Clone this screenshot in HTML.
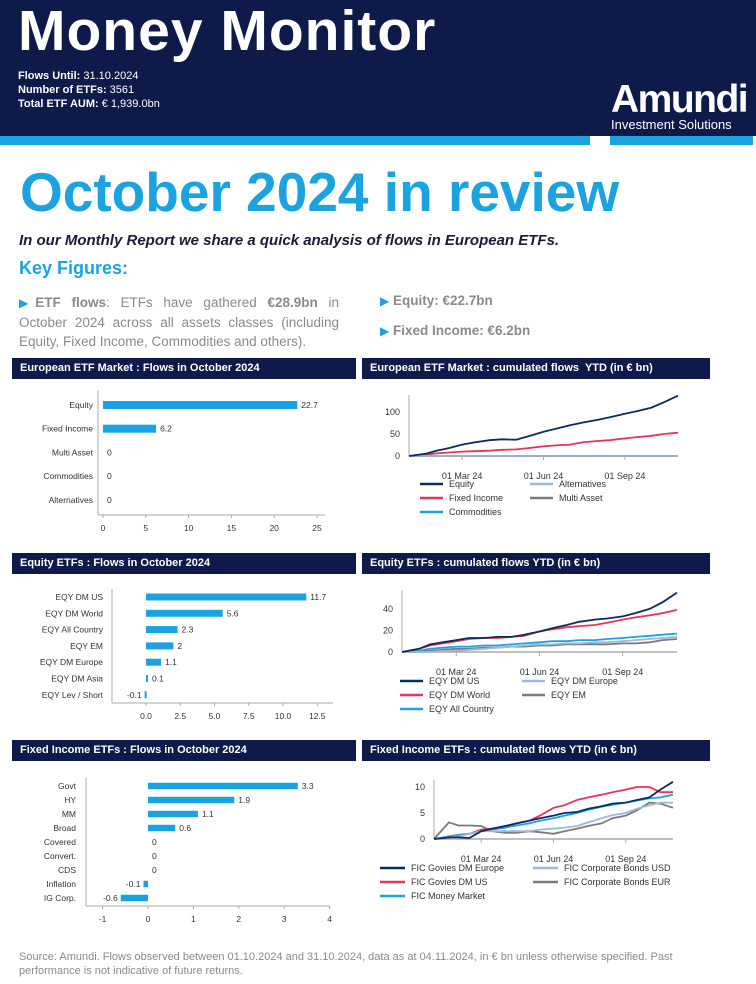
<!DOCTYPE html>
<html><head><meta charset="utf-8">
<style>
body{margin:0;width:756px;height:984px;background:#fff;position:relative;overflow:hidden;font-family:"Liberation Sans",sans-serif}
.abs{position:absolute;white-space:nowrap}
.band{position:absolute;background:#0e1a4a;color:#fff;font-weight:bold;font-size:11px;line-height:21px;height:21px;padding-left:8px;box-sizing:border-box}
.kf{color:#8a8a8a;font-size:13.5px}
.kf b{color:#8a8a8a}
.tri{color:#1aa3e0;font-size:12px}
svg text{font-family:"Liberation Sans",sans-serif}
</style></head><body>
<div class="abs" style="left:0;top:0;width:756px;height:136px;background:#0e1a4a"></div>
<div class="abs" style="left:0;top:136px;width:590px;height:9px;background:#1aa3e0"></div>
<div class="abs" style="left:610px;top:136px;width:143px;height:9px;background:#1aa3e0"></div>
<div class="abs" style="left:18px;top:-2px;font-size:57px;font-weight:bold;color:#fff;letter-spacing:1px">Money Monitor</div>
<div class="abs" style="left:18px;top:69px;font-size:11px;line-height:14px;color:#fff"><b>Flows Until:</b> 31.10.2024<br><b>Number of ETFs:</b> 3561<br><b>Total ETF AUM:</b> € 1,939.0bn</div>
<div class="abs" style="left:611px;top:78px;font-size:39px;font-weight:bold;color:#fff;letter-spacing:-1.5px">Amundi</div>
<div class="abs" style="left:611px;top:117px;font-size:13px;color:#fff">Investment Solutions</div>

<div class="abs" style="left:20px;top:160px;font-size:55px;font-weight:bold;color:#1aa3e0">October 2024 in review</div>
<div class="abs" style="left:19px;top:232px;font-size:15px;font-weight:bold;font-style:italic;color:#1a1a3a">In our Monthly Report we share a quick analysis of flows in European ETFs.</div>
<div class="abs" style="left:19px;top:258px;font-size:18px;font-weight:bold;color:#1aa3e0">Key Figures:</div>
<div class="abs kf" style="left:19px;top:293px;width:320px;white-space:normal;line-height:19px;text-align:justify"><span class="tri">▶</span><b>ETF flows</b>: ETFs have gathered <b>€28.9bn</b> in October 2024 across all assets classes (including Equity, Fixed Income, Commodities and others).</div>
<div class="abs kf" style="left:380px;top:293px"><span class="tri">▶</span> <b>Equity: €22.7bn</b></div>
<div class="abs kf" style="left:380px;top:323px"><span class="tri">▶</span> <b>Fixed Income: €6.2bn</b></div>

<div class="band" style="left:12px;top:358px;width:344px">European ETF Market : Flows in October 2024</div>
<div class="band" style="left:362px;top:358px;width:348px">European ETF Market : cumulated flows&nbsp; YTD (in € bn)</div>
<div class="band" style="left:12px;top:553px;width:344px">Equity ETFs : Flows in October 2024</div>
<div class="band" style="left:362px;top:553px;width:348px">Equity ETFs : cumulated flows YTD (in € bn)</div>
<div class="band" style="left:12px;top:740px;width:344px">Fixed Income ETFs : Flows in October 2024</div>
<div class="band" style="left:362px;top:740px;width:348px">Fixed Income ETFs : cumulated flows YTD (in € bn)</div>

<svg id="chart" class="abs" style="left:0;top:0" width="756" height="984"></svg>

<div class="abs" style="left:19px;top:950px;font-size:11px;line-height:14px;color:#8a8a8a;white-space:normal;width:700px">Source: Amundi. Flows observed between 01.10.2024 and 31.10.2024, data as at 04.11.2024, in € bn unless otherwise specified. Past performance is not indicative of future returns.</div>

<script>
// ---- Chart data ----
const mktCategories = ["Equity","Fixed Income","Multi Asset","Commodities","Alternatives"];
const mktValues = [22.7,6.2,0,0,0];
const mktTicks = [0,5,10,15,20,25];

const eqCategories = ["EQY DM US","EQY DM World","EQY All Country","EQY EM","EQY DM Europe","EQY DM Asia","EQY Lev / Short"];
const eqValues = [11.7,5.6,2.3,2,1.1,0.1,-0.1];
const eqTicks = ["0.0","2.5","5.0","7.5","10.0","12.5"];

const fiCategories = ["Govt","HY","MM","Broad","Covered","Convert.","CDS","Inflation","IG Corp."];
const fiValues = [3.3,1.9,1.1,0.6,0,0,0,-0.1,-0.6];
const fiTicks = [-1,0,1,2,3,4];

const dates = ["2024-01-01","2024-01-20","2024-02-01","2024-02-15","2024-03-01","2024-03-15","2024-04-01","2024-04-15","2024-05-01","2024-05-15","2024-06-01","2024-06-15","2024-07-01","2024-07-15","2024-08-01","2024-08-15","2024-09-01","2024-09-15","2024-10-01","2024-10-15","2024-10-31"];
const dateTickLabels = ["01 Mar 24","01 Jun 24","01 Sep 24"];
const dateTicks = ["2024-03-01","2024-06-01","2024-09-01"];

const mktEquity = [0,5,12,18,26,31,36,38,37,45,55,62,70,76,82,88,96,102,110,122,137];
const mktFixed = [0,3,6,8,10,11,12,14,15,18,22,24,26,31,34,36,40,43,46,50,53];
const mktAlt = [0,0,0,0,0,0,0,0,0,0,0,0,0,0,0,0,0,0,0,0,0];
const mktMulti = [0,0,0,0,0,0,0,0,0,0,0,0,0,0,0,0,0,0,0,0,0];
const mktComm = [0,0,0,0,0,0,0,0,0,0,0,0,0,0,0,0,0,0,0,0,0];
const mktTickVals = [0,50,100];

const eqUS = [0,3,7,9,11,13,13,14,14,16,19,22,25,28,30,31,33,36,40,46,55];
const eqWorld = [0,3,6,8,10,12,13,13,14,15,19,21,23,24,25,27,30,32,34,36,39];
const eqAC = [0,1,3,4,5,5,6,6,7,8,9,10,10,11,11,12,13,14,15,16,17];
const eqEurope = [0,0,0,1,1,2,3,4,5,6,7,7,8,8,9,9,10,11,12,13,14];
const eqEM = [0,0,1,2,3,3,4,4,5,5,6,6,7,7,7,7,8,8,9,11,12];
const eqTickVals = [0,20,40];

const fiGovEur = [0,0.3,0.3,0.2,1.5,2,2.5,3,3.5,4,4.5,5,5.2,5.8,6.3,6.8,7,7.5,8,9.5,11];
const fiGovUS = [0,0.3,0.5,1,1.8,2,2.5,3,3.5,4.5,6,6.5,7.5,8,8.5,9,9.5,10,10,9,9];
const fiMM = [0,0.5,0.8,1,1.5,1.8,2.2,2.6,3,3.5,4,4.5,5,5.6,6.2,6.6,7,7.4,7.8,8,8.5];
const fiCorpUSD = [0,0.3,0.5,1,1.5,1.5,1.5,1.5,1.5,1.8,2,2.2,2.5,3.2,4,4.6,5,5.8,6.5,7,7];
const fiCorpEUR = [0,3.2,2.6,2.6,2.5,1.5,1.2,1.2,1.5,1.3,1,1.5,2,2.5,3,4,4.5,5.5,7,6.8,6];
const fiTickVals = [0,5,10];

const svg = document.getElementById('chart');
const NS = 'http://www.w3.org/2000/svg';
function mk(tag, attrs, parent){const e=document.createElementNS(NS,tag);for(const k in attrs)e.setAttribute(k,attrs[k]);(parent||svg).appendChild(e);return e;}
function txt(x,y,s,anchor,size,fill){const t=mk('text',{x:x,y:y,'text-anchor':anchor,'font-size':size||9,fill:fill||'#333'});t.textContent=s;return t;}

function barChart(name,cats,vals,ticks,o){
  const g=mk('g',{});
  
  
  const xs=v=>o.zeroX+v*o.scale;
  mk('line',{x1:o.axisX,y1:o.top,x2:o.axisX,y2:o.bottom,stroke:'#aaa'},g);
  mk('line',{x1:o.axisX,y1:o.bottom,x2:o.right,y2:o.bottom,stroke:'#aaa'},g);
  ticks.forEach(t=>{const x=xs(parseFloat(t));
    mk('line',{x1:x,y1:o.bottom,x2:x,y2:o.bottom+3,stroke:'#aaa'},g);
    const l=txt(x,o.bottom+16,String(t),'middle',8.5,'#333');g.appendChild(l);
    
    
  });
  cats.forEach((c,i)=>{const y=o.firstY+i*o.step;
    const l=txt(o.labelX,y+3,c,'end',8.5,'#333');g.appendChild(l);
    
    
    const v=vals[i];const x0=Math.min(xs(0),xs(v));let w=Math.abs(xs(v)-xs(0));if(v!==0&&w<2)w=2;
    if(v!==0){const r=mk('rect',{x:x0,y:y-o.bh/2,width:w,height:o.bh,fill:'#1aa3e0'},g);
      
      }
    const lx=v<0?x0-3:xs(0)+w+4;
    const vl=txt(lx,y+3,String(v),v<0?'end':'start',8.5,'#333');g.appendChild(vl);
    
    
  });
}

function lineChart(name,series,tickVals,legend,o){
  const g=mk('g',{});
  
  
  const t0=Date.parse('2024-01-01'),t1=Date.parse('2024-10-31');
  const xs=d=>o.left+(Date.parse(d)-t0)/(t1-t0)*(o.right-o.left);
  const ys=v=>o.zeroY-v*o.scale;
  mk('line',{x1:o.left,y1:o.top,x2:o.left,y2:o.zeroY,stroke:'#aaa'},g);
  mk('line',{x1:o.left,y1:o.zeroY,x2:o.right,y2:o.zeroY,stroke:'#aaa','stroke-width':1.5},g);
  tickVals.forEach(v=>{const l=txt(o.left-9,ys(v)+3,String(v),'end',9,'#333');g.appendChild(l);
    
    });
  dateTicks.forEach((d,i)=>{const x=xs(d);
    mk('line',{x1:x,y1:o.zeroY,x2:x,y2:o.zeroY+4,stroke:'#aaa'},g);
    const l=txt(x,o.labelY,dateTickLabels[i],'middle',9,'#333');g.appendChild(l);
    
    });
  series.slice().reverse().forEach(s=>{
    const p=s.vals.map((v,i)=>xs(dates[i]).toFixed(1)+','+ys(v).toFixed(1)).join(' ');
    const pl=mk('polyline',{points:p,fill:'none',stroke:s.color,'stroke-width':1.8},g);
    
    
  });
  series.forEach((s,i)=>{const col=i%2,row=Math.floor(i/2);
    const lx=legend.cols[col],ly=legend.rows[row];
    mk('line',{x1:lx,y1:ly,x2:lx+legend.len,y2:ly,stroke:s.color,'stroke-width':2.5},g);
    const l=txt(lx+legend.len+6,ly+3,s.name,'start',9,'#333');g.appendChild(l);
    
    });
}

const NAVY='#0b2d5b',RED='#e8335a',BLUE='#19a3e3',LIGHT='#9db8d4',GRAY='#7b7b7b';

barChart('market-flows-bar-chart',mktCategories,mktValues,mktTicks,{zeroX:103,scale:8.56,axisX:98,top:390,bottom:515,right:325,labelX:93,firstY:405,step:23.7,bh:8});
barChart('equity-flows-bar-chart',eqCategories,eqValues,eqTicks,{zeroX:146,scale:13.7,axisX:112,top:589,bottom:703,right:333,labelX:103,firstY:597,step:16.3,bh:7});
barChart('fi-flows-bar-chart',fiCategories,fiValues,fiTicks,{zeroX:148,scale:45.4,axisX:86,top:778,bottom:906,right:330,labelX:76,firstY:786,step:14,bh:6.5});

lineChart('market-cumulated-line-chart',[
  {name:'Equity',vals:mktEquity,color:NAVY},{name:'Alternatives',vals:mktAlt,color:LIGHT},
  {name:'Fixed Income',vals:mktFixed,color:RED},{name:'Multi Asset',vals:mktMulti,color:GRAY},
  {name:'Commodities',vals:mktComm,color:BLUE}],mktTickVals,
  {cols:[420,530],rows:[484,498,512],len:23},{left:409,right:678,top:395,zeroY:456,scale:0.44,labelY:479});

lineChart('equity-cumulated-line-chart',[
  {name:'EQY DM US',vals:eqUS,color:NAVY},{name:'EQY DM Europe',vals:eqEurope,color:LIGHT},
  {name:'EQY DM World',vals:eqWorld,color:RED},{name:'EQY EM',vals:eqEM,color:GRAY},
  {name:'EQY All Country',vals:eqAC,color:BLUE}],eqTickVals,
  {cols:[400,522],rows:[681,695,709],len:23},{left:402,right:677,top:590,zeroY:652,scale:1.08,labelY:675});

lineChart('fi-cumulated-line-chart',[
  {name:'FIC Govies DM Europe',vals:fiGovEur,color:NAVY},{name:'FIC Corporate Bonds USD',vals:fiCorpUSD,color:LIGHT},
  {name:'FIC Govies DM US',vals:fiGovUS,color:RED},{name:'FIC Corporate Bonds EUR',vals:fiCorpEUR,color:GRAY},
  {name:'FIC Money Market',vals:fiMM,color:BLUE}],fiTickVals,
  {cols:[380,533],rows:[868,882,896],len:25},{left:434,right:673,top:780,zeroY:839,scale:5.2,labelY:862});
</script>
</body></html>
